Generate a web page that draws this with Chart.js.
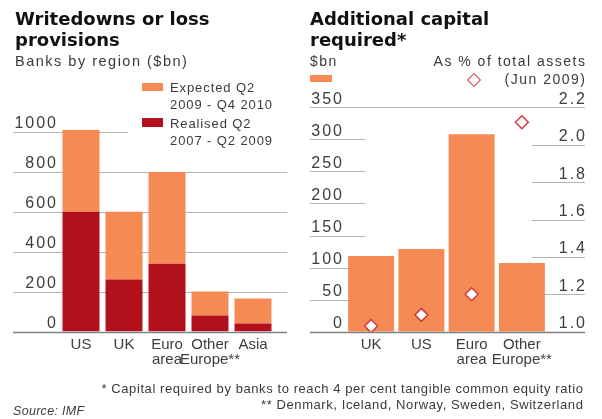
<!DOCTYPE html>
<html>
<head>
<meta charset="utf-8">
<script src="https://cdn.jsdelivr.net/npm/chart.js@4"></script>
<style>
    body { margin: 0; width: 602px; height: 419px; background: #fff; position: relative; overflow: hidden; font-family: "Liberation Sans", Arial, sans-serif; color: #3a3a3a; }
    canvas { position: absolute; top: 0; }
    .t { position: absolute; white-space: nowrap; }
    .title { font: bold 18px/21px "DejaVu Sans", sans-serif; color: #111; }
    .sub { font-size: 14.5px; line-height: 14.5px; letter-spacing: 1.5px; }
    .leg { font-size: 13px; line-height: 17px; letter-spacing: 0.9px; }
    .note { font-size: 13px; line-height: 17px; letter-spacing: 0.58px; }
    .sw { position: absolute; }
</style>
</head>
<body>
<canvas id="writedowns" width="300" height="419" style="left:0"></canvas>
<canvas id="capital" width="302" height="419" style="left:300px"></canvas>

<div class="t title" style="left:15px;top:8px">Writedowns or loss<br>provisions</div>
<div class="t sub" style="left:15px;top:54px">Banks by region ($bn)</div>

<div class="t" style="left:128px;top:78px;width:172px;height:70px;background:#fff"></div>
<div class="sw" style="left:142px;top:83px;width:21px;height:8px;background:#f58a55"></div>
<div class="t leg" style="left:170px;top:79px">Expected Q2<br>2009 - Q4 2010</div>
<div class="sw" style="left:142px;top:118px;width:21px;height:9px;background:#b2111b"></div>
<div class="t leg" style="left:170px;top:115px">Realised Q2<br>2007 - Q2 2009</div>

<div class="t title" style="left:310px;top:8px">Additional capital<br>required*</div>
<div class="t sub" style="left:310px;top:54px;font-size:14px;letter-spacing:1.5px">$bn</div>
<div class="t sub" style="right:15.5px;top:54px;font-size:14px;letter-spacing:1.5px">As % of total assets</div>
<div class="sw" style="left:310px;top:75px;width:22px;height:7px;background:#f58a55"></div>
<div class="sw" style="left:469px;top:75px;width:8px;height:8px;border:1.5px solid #d6383a;background:#fff;transform:rotate(45deg)"></div>
<div class="t sub" style="right:15.5px;top:72px;font-size:14px">(Jun 2009)</div>

<div class="t note" style="right:18.5px;top:380px">* Capital required by banks to reach 4 per cent tangible common equity ratio</div>
<div class="t note" style="right:18.5px;top:396px">** Denmark, Iceland, Norway, Sweden, Switzerland</div>
<div class="t note" style="left:13px;top:403px;font-style:italic;font-size:12.5px;letter-spacing:0.3px">Source: IMF</div>

<script>
// left chart: writedowns by region ($bn)
const regions = ['US', 'UK', 'Euro area', 'Other Europe**', 'Asia'];
const realised = [600, 260, 340, 80, 40];
const expected = [410, 340, 460, 120, 125];
const writedownTicks = [0, 200, 400, 600, 800, 1000];

// right chart: additional capital required
const capitalRegions = ['UK', 'US', 'Euro area', 'Other Europe**'];
const capitalNeeded = [118, 129, 308, 107];
const pctOfAssets = [1.03, 1.09, 1.20, 2.12];
const capitalTicks = [0, 50, 100, 150, 200, 250, 300, 350];
const pctTicks = [1.0, 1.2, 1.4, 1.6, 1.8, 2.0, 2.2];

const orange = '#f58a55';
const red = '#b2111b';
const textCol = '#3d3d3d';

// short gridlines + tick labels sitting above them, and the zero baseline
const guides = {
    id: 'guides',
    beforeDatasetsDraw(chart, args, opts) {
        const ctx = chart.ctx;
        ctx.save();
        ctx.strokeStyle = '#b4b4b4';
        ctx.lineWidth = 1;
        opts.grids.forEach(g => {
            const scale = chart.scales[g.axis];
            g.values.forEach(v => {
                const y = Math.round(scale.getPixelForValue(v)) + 0.5;
                ctx.beginPath();
                ctx.moveTo(g.from, y);
                ctx.lineTo(g.to, y);
                ctx.stroke();
            });
        });
        ctx.font = '16px "Liberation Sans"';
        ctx.letterSpacing = '2px';
        ctx.fillStyle = textCol;
        ctx.textAlign = 'right';
        ctx.textBaseline = 'alphabetic';
        opts.labels.forEach(l => {
            const scale = chart.scales[l.axis];
            l.values.forEach(v => {
                ctx.fillText(l.fmt(v), l.x + 2, scale.getPixelForValue(v) - 3.5);
            });
        });
        ctx.restore();
    },
    afterDatasetDraw(chart, args, opts) {
        if (args.index !== opts.baselineAfter) return;
        const ctx = chart.ctx;
        const y = Math.round(chart.scales.y.getPixelForValue(0)) + 0.5;
        ctx.save();
        ctx.strokeStyle = '#808080';
        ctx.lineWidth = 1.5;
        ctx.beginPath();
        ctx.moveTo(opts.baseFrom, y);
        ctx.lineTo(opts.baseTo, y);
        ctx.stroke();
        ctx.restore();
    }
};

function xAxis(labels) {
    return {
        stacked: true,
        grid: { display: false, drawTicks: false },
        border: { display: false },
        ticks: {
            padding: 6,
            color: textCol,
            autoSkip: false,
            maxRotation: 0,
            font: { family: 'Liberation Sans', size: 15, lineHeight: 1 },
            callback: (v, i) => labels[i].split(' ')
        },
        afterFit: scale => { scale.height = 40; }
    };
}

new Chart(document.getElementById('writedowns'), {
    type: 'bar',
    data: {
        labels: regions,
        datasets: [
            { label: 'Realised Q2 2007-Q2 2009', data: realised, backgroundColor: red },
            { label: 'Expected Q2 2009-Q4 2010', data: expected, backgroundColor: orange }
        ]
    },
    options: {
        responsive: false,
        animation: false,
        layout: { padding: { left: 59.5, right: 25.5, top: 122, bottom: 47.5 } },
        datasets: { bar: { barPercentage: 0.86, categoryPercentage: 1 } },
        plugins: {
            legend: { display: false },
            tooltip: { enabled: false },
            guides: {
                grids: [{ axis: 'y', values: writedownTicks.slice(1), from: 13, to: 287 }],
                labels: [{ axis: 'y', values: writedownTicks, x: 56, fmt: v => String(v) }],
                baselineAfter: 1,
                baseFrom: 13,
                baseTo: 287
            }
        },
        scales: {
            x: xAxis(regions),
            y: { display: false, stacked: true, min: 0, max: 1050 }
        }
    },
    plugins: [guides]
});

new Chart(document.getElementById('capital'), {
    type: 'bar',
    data: {
        labels: capitalRegions,
        datasets: [
            {
                type: 'line',
                label: 'As % of total assets (Jun 2009)',
                data: pctOfAssets,
                yAxisID: 'y2',
                showLine: false,
                pointStyle: 'rectRot',
                pointRadius: 6.5,
                pointBorderWidth: 1.5,
                pointBackgroundColor: '#fff',
                pointBorderColor: '#d6383a',
                order: 0
            },
            { label: '$bn', data: capitalNeeded, backgroundColor: orange, yAxisID: 'y', order: 1 }
        ]
    },
    options: {
        responsive: false,
        animation: false,
        layout: { padding: { left: 46, right: 55, top: 107.3, bottom: 47.3 } },
        datasets: { bar: { barPercentage: 0.915, categoryPercentage: 1 } },
        plugins: {
            legend: { display: false },
            tooltip: { enabled: false },
            guides: {
                grids: [
                    { axis: 'y', values: capitalTicks.slice(1, -1), from: 10, to: 65 },
                    { axis: 'y2', values: pctTicks.slice(1, -1), from: 232, to: 285 },
                    { axis: 'y', values: [350], from: 10, to: 285 }
                ],
                labels: [
                    { axis: 'y', values: capitalTicks, x: 42, fmt: v => String(v) },
                    { axis: 'y2', values: pctTicks, x: 285, fmt: v => v.toFixed(1) }
                ],
                baselineAfter: 1,
                baseFrom: 10,
                baseTo: 285
            }
        },
        scales: {
            x: xAxis(capitalRegions),
            y: { display: false, min: 0, max: 350 },
            y2: { display: false, position: 'right', min: 1.0, max: 2.2 }
        }
    },
    plugins: [guides]
});
</script>
</body>
</html>
